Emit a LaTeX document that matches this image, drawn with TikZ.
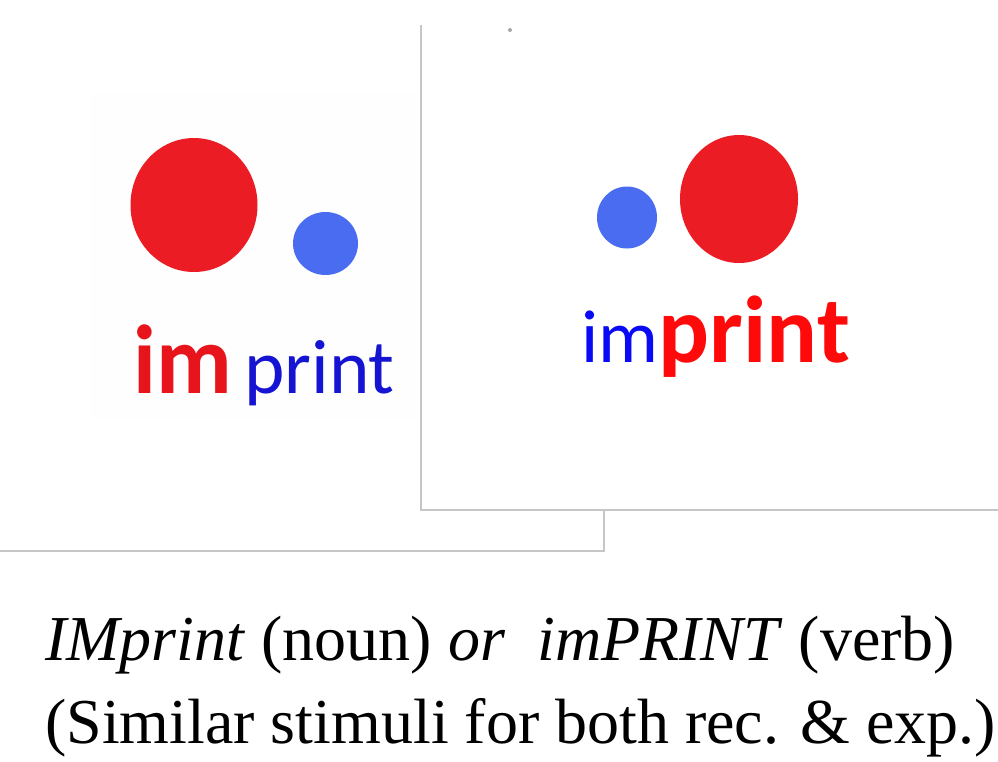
\documentclass[tikz,border=0pt]{standalone}
\usepackage{fontspec}
\setmainfont{Liberation Serif}
\newfontfamily\carlitofont{Carlito}
\definecolor{cardline}{HTML}{C6C6C6}
\definecolor{dotred}{HTML}{EC1C24}
\definecolor{dotblue}{HTML}{4A6CF0}
\definecolor{txtred}{HTML}{E8141C}
\definecolor{txtredb}{HTML}{FF0A0A}
\definecolor{txtblue}{HTML}{1414D2}
\definecolor{txtblueb}{HTML}{0A0AF5}
\begin{document}
\begin{tikzpicture}[x=1pt,y=-1pt,
  edge/.style={draw=cardline,line width=2pt},
  reddot/.style={fill=dotred},
  bluedot/.style={fill=dotblue},
  word/.style={inner sep=0pt,anchor=base west},
  caption/.style={inner sep=0pt,anchor=base west,font=\fontsize{64}{76}\selectfont}]
\useasboundingbox[fill=white] (0,0) rectangle (998,761);
% faint background of left stimulus
\fill[black!0.5] (90,93) rectangle (417,420);
% left card
\coordinate (lc1) at (0,551);
\coordinate (lc2) at (604,551);
\coordinate (lc3) at (604,510);
\draw[edge] (lc1) -- (lc2) -- (lc3);
% right card
\coordinate (rc1) at (421,25);
\coordinate (rc2) at (421,510);
\coordinate (rc3) at (998,510);
\draw[edge] (rc1) -- (rc2) -- (rc3);
\fill[black!35] (510,30) circle (2);
% left stimulus
\fill[reddot] (194,205) ellipse (63.5 and 67);
\fill[bluedot] (325.5,243.5) ellipse (32.5 and 31.5);
\node[word,text=txtred] (lim) at (133,393) {\scalebox{0.95}[1]{\carlitofont\bfseries\fontsize{98}{98}\selectfont im}};
\node[word,text=txtblue,xshift=12pt] (lprint) at (lim.base east) {\carlitofont\fontsize{77}{77}\selectfont print};
% right stimulus
\fill[bluedot] (627,217.5) ellipse (30 and 31);
\fill[reddot] (739,199) ellipse (59 and 64);
\node[word,text=txtblueb] (rim) at (581,362) {\carlitofont\fontsize{75}{75}\selectfont im};
\node[word,text=txtredb] (rprint) at (rim.base east) {\carlitofont\bfseries\fontsize{95}{95}\selectfont print};
% caption
\node[caption] (cap1) at (45,660) {\textit{IMprint} (noun) \textit{or}\ \ \textit{imPRINT} (verb)};
\node[caption] (cap2) at (45,743) {(Similar stimuli for both rec. \& exp.)};
\end{tikzpicture}
\end{document}
